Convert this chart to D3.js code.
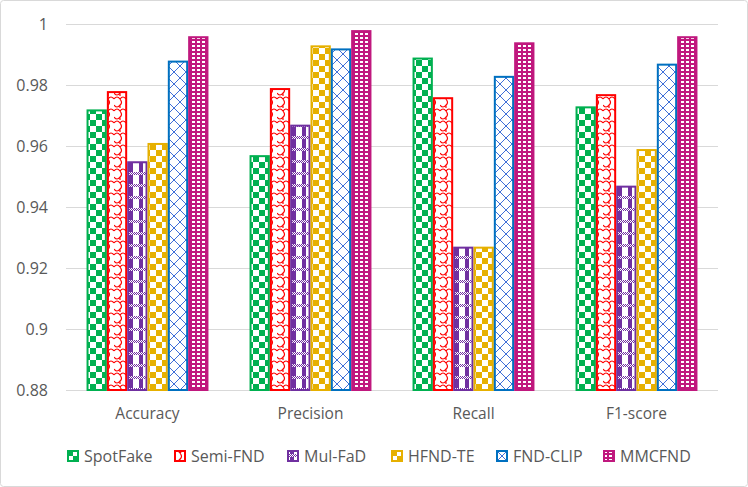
<!DOCTYPE html>
<html><head><meta charset="utf-8">
<script src="https://cdn.jsdelivr.net/npm/d3@7/dist/d3.min.js"></script>
<style>
html,body{margin:0;padding:0;background:#fff;}
svg{display:block;}
text{font-family:"Open Sans","Noto Sans",sans-serif;fill:#595959;}
</style></head>
<body>
<svg id="chart" width="748" height="487"></svg>
<script>
const categories = ["Accuracy", "Precision", "Recall", "F1-score"];
const seriesNames = ["SpotFake", "Semi-FND", "Mul-FaD", "HFND-TE", "FND-CLIP", "MMCFND"];
const spotFake = [0.972, 0.957, 0.989, 0.973];
const semiFND  = [0.978, 0.979, 0.976, 0.977];
const mulFaD   = [0.955, 0.967, 0.927, 0.947];
const hfndTE   = [0.961, 0.993, 0.927, 0.959];
const fndCLIP  = [0.988, 0.992, 0.983, 0.987];
const mmcfnd   = [0.996, 0.998, 0.994, 0.996];
const yTicks = [0.88, 0.9, 0.92, 0.94, 0.96, 0.98, 1];

const seriesValues = [spotFake, semiFND, mulFaD, hfndTE, fndCLIP, mmcfnd];
const colors = ["#00B050", "#FF0000", "#7030A0", "#E6B000", "#0070C0", "#C0187E"];

const svg = d3.select("#chart");
svg.append("rect").attr("x",0.5).attr("y",0.5).attr("width",747).attr("height",486)
  .attr("rx",3).attr("fill","#fff").attr("stroke","#D9D9D9");

const defs = svg.append("defs");
function checker(id, color){
  const p = defs.append("pattern").attr("id",id).attr("patternUnits","userSpaceOnUse")
    .attr("width",12).attr("height",12);
  p.append("rect").attr("width",12).attr("height",12).attr("fill","#fff");
  p.append("rect").attr("width",6).attr("height",6).attr("fill",color);
  p.append("rect").attr("x",6).attr("y",6).attr("width",6).attr("height",6).attr("fill",color);
}
checker("p0", colors[0]);
checker("p3", colors[3]);
{
  const p = defs.append("pattern").attr("id","p1").attr("patternUnits","userSpaceOnUse")
    .attr("width",12).attr("height",12);
  p.append("rect").attr("width",12).attr("height",12).attr("fill","#fff");
  p.append("path").attr("d","M0,3 Q3,-1 6,3 Q9,7 6,9 L6,12 M6,3 Q9,-1 12,3 M0,9 Q3,13 6,9")
    .attr("fill","none").attr("stroke",colors[1]).attr("stroke-width",1.2);
}
{
  const p = defs.append("pattern").attr("id","p2").attr("patternUnits","userSpaceOnUse")
    .attr("width",10).attr("height",12);
  p.append("rect").attr("width",10).attr("height",12).attr("fill","#fff");
  p.append("rect").attr("x",3).attr("width",4).attr("height",12).attr("fill",colors[2]);
  for(let i=0;i<10;i++){
    for(let j=0;j<3;j++){
      p.append("rect").attr("x",i).attr("y",4+j).attr("width",1).attr("height",1)
        .attr("fill",(i+j)%2===0 ? colors[2] : "#fff");
    }
  }
}
{
  const p = defs.append("pattern").attr("id","p4").attr("patternUnits","userSpaceOnUse")
    .attr("width",12).attr("height",12);
  p.append("rect").attr("width",12).attr("height",12).attr("fill","#fff");
  p.append("path").attr("d","M0,0 L12,12 M12,0 L0,12")
    .attr("stroke","#3F6FD8").attr("stroke-width",1);
}
{
  const p = defs.append("pattern").attr("id","p5").attr("patternUnits","userSpaceOnUse")
    .attr("width",5).attr("height",4);
  p.append("rect").attr("width",5).attr("height",4).attr("fill",colors[5]);
  p.append("rect").attr("x",1).attr("y",1).attr("width",3).attr("height",2).attr("fill","#fff");
}

const plotLeft = 66, plotRight = 718, plotTop = 24, plotBottom = 390;
const y = d3.scaleLinear().domain([0.88, 1]).range([plotBottom, plotTop]);
const x0 = d3.scaleBand().domain(categories).range([plotLeft, plotRight]);
const bw = x0.bandwidth();
const x1 = d3.scaleBand().domain(seriesNames).range([bw*0.126, bw*0.874]);

svg.append("g").selectAll("line").data(yTicks).join("line")
  .attr("x1",plotLeft).attr("x2",plotRight)
  .attr("y1",d=>Math.round(y(d))+0.5).attr("y2",d=>Math.round(y(d))+0.5)
  .attr("stroke","#D9D9D9").attr("stroke-width",1);

svg.append("g").selectAll("text").data(yTicks).join("text")
  .attr("x",48).attr("y",d=>y(d)+6).attr("text-anchor","end")
  .attr("font-size",16).text(d=>String(+d.toFixed(2)));

const groups = svg.append("g").selectAll("g").data(categories).join("g")
  .attr("transform",d=>`translate(${x0(d)},0)`);
groups.selectAll("rect").data((c,ci)=>seriesNames.map((s,si)=>({s,si,v:seriesValues[si][ci]})))
  .join("rect")
  .attr("x",d=>x1(d.s)+1).attr("width",x1.bandwidth()-2)
  .attr("y",d=>y(d.v)+1).attr("height",d=>plotBottom-y(d.v)-1)
  .attr("fill",d=>`url(#p${d.si})`)
  .attr("stroke",d=>colors[d.si]).attr("stroke-width",2);

svg.append("g").selectAll("text").data(categories).join("text")
  .attr("x",d=>x0(d)+bw/2).attr("y",419).attr("text-anchor","middle")
  .attr("font-size",15.5).text(d=>d);

const legendX = [67, 174, 287, 391, 496, 603];
const lg = svg.append("g").selectAll("g").data(seriesNames).join("g")
  .attr("transform",(d,i)=>`translate(${legendX[i]},450)`);
lg.append("rect").attr("x",1).attr("y",1).attr("width",10).attr("height",10)
  .attr("fill",(d,i)=>`url(#p${i})`).attr("stroke",(d,i)=>colors[i]).attr("stroke-width",2);
lg.append("text").attr("x",17).attr("y",12).attr("font-size",16).text(d=>d);
</script>
</body></html>
